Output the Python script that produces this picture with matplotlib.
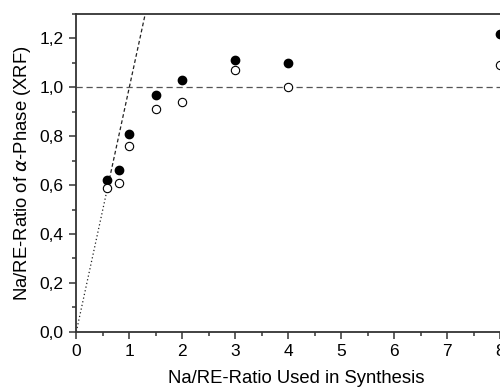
import numpy as np
from matplotlib import pyplot as plt
from matplotlib.ticker import FuncFormatter, MultipleLocator

plt.rcParams['font.family'] = ['Liberation Sans', 'DejaVu Sans']

# Na/RE ratio used in synthesis
x_synth = [0.57, 0.8, 1.0, 1.5, 2.0, 3.0, 4.0, 8.0]
# measured ratios (XRF), filled and open symbols
y_filled = [0.62, 0.66, 0.81, 0.97, 1.03, 1.11, 1.10, 1.22]
y_open = [0.59, 0.61, 0.76, 0.91, 0.94, 1.07, 1.00, 1.09]

fig = plt.figure(figsize=(5, 3.89), dpi=100)
# axes runs off the right edge like in the original crop
ax = fig.add_axes([0.1526, 0.1473, 0.88, 0.8167])

# y = x reference line, dotted at the bottom, dashed above
ax.plot([0, 0.6], [0, 0.6], ls=(0, (1, 2)), c='#222222', lw=0.9, zorder=1)
ax.plot([0.6, 1.3], [0.6, 1.3], ls=(0, (3, 2)), c='#222222', lw=0.9, zorder=1)
ax.axhline(1.0, ls=(0, (5, 3)), c='#555555', lw=0.9, zorder=1)

ax.plot(x_synth, y_filled, 'o', ms=6, mfc='black', mec='black', zorder=3)
ax.plot(x_synth, y_open, 'o', ms=6, mfc='white', mec='black', mew=0.8, zorder=3)

ax.set_xlim(0, 8.3)
ax.set_ylim(0, 1.3)
ax.xaxis.set_major_locator(MultipleLocator(1))
ax.xaxis.set_minor_locator(MultipleLocator(0.5))
ax.yaxis.set_major_locator(MultipleLocator(0.2))
ax.yaxis.set_minor_locator(MultipleLocator(0.1))
ax.xaxis.set_major_formatter(FuncFormatter(lambda v, p: '%d' % v))
ax.yaxis.set_major_formatter(FuncFormatter(lambda v, p: ('%.1f' % v).replace('.', ',')))

for s in ['left', 'bottom', 'top']:
    ax.spines[s].set_color('#333333')
    ax.spines[s].set_linewidth(1.3)
ax.spines['right'].set_visible(False)
ax.tick_params(which='both', direction='out', color='#333333', width=1.1, labelsize=12.5)
ax.tick_params(which='major', length=5, pad=4)
ax.tick_params(which='minor', length=3)
ax.tick_params(top=False, which='both')

ax.set_xlabel('Na/RE-Ratio Used in Synthesis', fontsize=13.3, labelpad=8)
ax.set_ylabel(r'Na/RE-Ratio of $\alpha$-Phase (XRF)', fontsize=13.3, labelpad=5)

fig.savefig('out.png', dpi=100)
